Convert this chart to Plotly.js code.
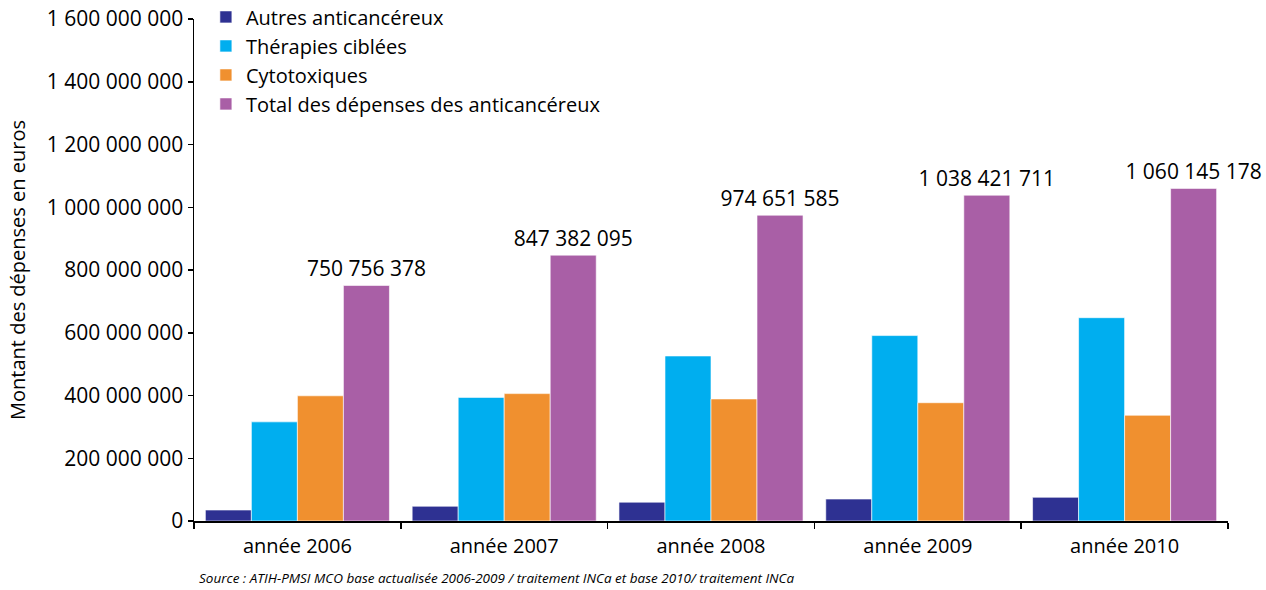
<!DOCTYPE html>
<html>
<head>
<meta charset="utf-8">
<script src="https://cdn.plot.ly/plotly-3.0.1.min.js"></script>
<style>html,body{margin:0;padding:0;background:#fff;}#chart{width:1266px;height:590px;}</style>
</head>
<body>
<div id="chart"></div>
<script>
var categories = ["année 2006", "année 2007", "année 2008", "année 2009", "année 2010"];
var seriesNames = ["Autres anticancéreux", "Thérapies ciblées", "Cytotoxiques", "Total des dépenses des anticancéreux"];
var autres = [35000000, 47000000, 60000000, 70000000, 75500000];
var ciblees = [316000000, 394000000, 526000000, 591000000, 648000000];
var cytotoxiques = [399000000, 406000000, 389000000, 377000000, 337000000];
var total = [750756378, 847382095, 974651585, 1038421711, 1060145178];
var yTickVals = [0, 200000000, 400000000, 600000000, 800000000, 1000000000, 1200000000, 1400000000, 1600000000];
var colors = ["#2E3192", "#00AEEF", "#F0902F", "#A95FA6"];

function fmt(v) { return String(v).replace(/\B(?=(\d{3})+(?!\d))/g, " "); }

var FONT = "Open Sans, Noto Sans, sans-serif";
var values = [autres, ciblees, cytotoxiques, total];
var traces = values.map(function (vals, i) {
  var t = {
    type: "bar",
    name: seriesNames[i],
    x: categories,
    y: vals,
    legendgroup: "g" + i,
    marker: { color: colors[i], line: { color: "#ffffff", width: 0.6 } },
    hoverinfo: "x+y+name"
  };
  if (i === 3) {
    t.text = vals.map(fmt);
    t.textposition = "outside";
    t.constraintext = "none";
    t.textfont = { family: FONT, size: 21, color: "#000" };
    t.cliponaxis = false;
  }
  return t;
});

var layout = {
  width: 1266, height: 590,
  margin: { l: 194, r: 38, t: 19, b: 69, autoexpand: false },
  paper_bgcolor: "#fff", plot_bgcolor: "#fff",
  font: { family: FONT, color: "#000", size: 20 },
  barmode: "group", bargap: 0.11, bargroupgap: 0,
  showlegend: true,
  legend: {
    x: 0.0115, y: 1.043, xanchor: "left", yanchor: "top",
    font: { family: FONT, size: 20, color: "#000" },
    traceorder: "grouped", tracegroupgap: 0,
    bgcolor: "rgba(0,0,0,0)", itemwidth: 30
  },
  xaxis: {
    type: "category",
    showline: true, linecolor: "#000", linewidth: 1.5,
    ticks: "outside", tickson: "boundaries", ticklen: 6, tickcolor: "#000", tickwidth: 1.5,
    ticklabelstandoff: 6,
    showgrid: false, zeroline: false,
    tickfont: { family: FONT, size: 20, color: "#000" }
  },
  yaxis: {
    range: [0, 1600000000],
    tickvals: yTickVals,
    ticktext: yTickVals.map(fmt),
    showline: true, linecolor: "#000", linewidth: 1.5,
    ticks: "outside", ticklen: 5, tickcolor: "#000", tickwidth: 1.5,
    showgrid: false, zeroline: false,
    tickfont: { family: FONT, size: 21, color: "#000" },
    title: { text: "Montant des dépenses en euros", font: { family: FONT, size: 20, color: "#000" }, standoff: 16 }
  },
  annotations: [{
    text: "<i>Source : ATIH-PMSI MCO base actualisée 2006-2009 / traitement INCa et base 2010/ traitement INCa</i>",
    xref: "paper", yref: "paper", x: 0.003, y: -0.1135, xanchor: "left", yanchor: "middle",
    showarrow: false, font: { family: FONT, size: 13.5, color: "#000" }
  }]
};

Plotly.newPlot("chart", traces, layout, { displayModeBar: false, staticPlot: true });
</script>
</body>
</html>
